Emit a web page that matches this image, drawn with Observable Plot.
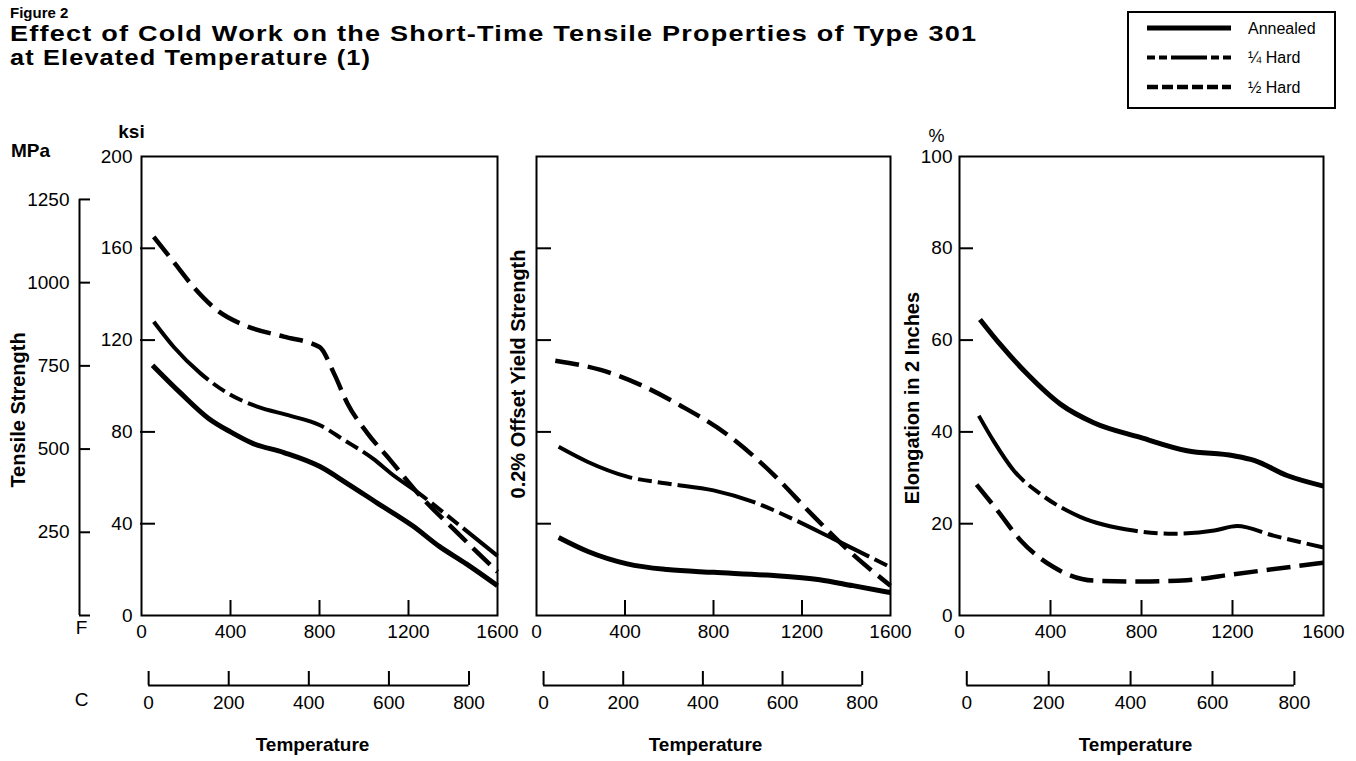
<!DOCTYPE html>
<html>
<head>
<meta charset="utf-8">
<script src="https://cdn.jsdelivr.net/npm/d3@7"></script>
<script src="https://cdn.jsdelivr.net/npm/@observablehq/plot@0.6"></script>
<style>
  body { margin: 0; background: #fff; font-family: "Liberation Sans", Arial, sans-serif; color: #000; }
  #wrap { position: relative; width: 1356px; height: 761px; overflow: hidden; background: #fff; }
  .fig { position: absolute; left: 10px; top: 4px; font-weight: bold; font-size: 15px; line-height: 17px; }
  .tl { position: absolute; left: 10px; font-weight: bold; font-size: 22px; line-height: 24px; white-space: nowrap; transform-origin: 0 50%; letter-spacing: 1px; }
</style>
</head>
<body>
<div id="wrap">
  <div class="fig">Figure 2</div>
  <div class="tl" style="top:22px;transform:scaleX(1.23);">Effect of Cold Work on the Short-Time Tensile Properties of Type 301</div>
  <div class="tl" style="top:46px;transform:scaleX(1.15);">at Elevated Temperature (1)</div>
</div>
<script>
// ---------- tick / category data ----------
const fTicks = [0, 400, 800, 1200, 1600];
const fInnerTicks = [400, 800, 1200];
const cTicks = [0, 200, 400, 600, 800];
const ksiTicks = [0, 40, 80, 120, 160, 200];
const ksiInnerTicks = [40, 80, 120, 160];
const mpaTicks = [0, 250, 500, 750, 1000, 1250];
const mpaLabels = [250, 500, 750, 1000, 1250];
const pctTicks = [0, 20, 40, 60, 80, 100];
const pctInnerTicks = [20, 40, 60, 80];
const seriesNames = ["Annealed", "¼ Hard", "½ Hard"];

// ---------- Panel 1: Tensile Strength (ksi) ----------
const tsAnnealedF = [50, 175, 300, 400, 500, 640, 800, 925, 1060, 1220, 1340, 1460, 1600];
const tsAnnealed  = [109, 97, 86, 80, 75, 71, 65, 57.5, 49, 39, 30, 22.5, 13];
const tsQuarterF  = [55, 145, 265, 385, 520, 670, 800, 910, 1045, 1120, 1250, 1420, 1600];
const tsQuarter   = [128, 117, 105.5, 97, 91, 87, 83, 76.5, 68, 62, 53, 40, 26];
const tsHalfF     = [55, 145, 235, 340, 475, 640, 800, 865, 925, 1015, 1120, 1240, 1420, 1600];
const tsHalf      = [165, 154, 143, 133, 126, 121.5, 117, 105.5, 92.5, 79.5, 67.5, 53.5, 36, 19];

// ---------- Panel 2: 0.2% Offset Yield Strength (ksi) ----------
const ysAnnealedF = [100, 230, 410, 590, 800, 1040, 1280, 1430, 1600];
const ysAnnealed  = [34, 28, 22.5, 20, 18.8, 17.6, 15.6, 13, 10];
const ysQuarterF  = [100, 230, 410, 590, 800, 980, 1160, 1340, 1600];
const ysQuarter   = [73.5, 67, 60.5, 57.5, 54.5, 49.5, 42, 33.5, 21];
const ysHalfF     = [85, 290, 470, 650, 860, 1070, 1250, 1420, 1600];
const ysHalf      = [111, 107, 100.5, 91.5, 79, 61.5, 43.5, 27.5, 13];

// ---------- Panel 3: Elongation in 2 Inches (%) ----------
const elAnnealedF = [90, 180, 300, 445, 590, 795, 1000, 1205, 1295, 1440, 1600];
const elAnnealed  = [64.5, 59, 52.5, 46, 42, 38.8, 35.9, 34.8, 33.8, 30.5, 28.2];
const elQuarterF  = [85, 150, 240, 355, 530, 765, 940, 1120, 1220, 1380, 1600];
const elQuarter   = [43.5, 38, 31.5, 26.5, 21.5, 18.5, 17.8, 18.5, 19.5, 17.4, 14.8];
const elHalfF     = [75, 165, 270, 415, 590, 795, 1000, 1205, 1600];
const elHalf      = [28.5, 23, 16.3, 10.5, 7.6, 7.4, 7.7, 9, 11.5];

// ---------- helpers ----------
const KSI_TO_MPA = 6.895;
const cToF = c => c * 9 / 5 + 32;
const fToC = f => (f - 32) * 5 / 9;
const rows = (F, V) => F.map((f, i) => ({F: f, v: V[i]}));
const plain = d => String(Math.round(d));

const lineStyle = {
  "Annealed": {strokeWidth: 5},
  "¼ Hard": {strokeWidth: 4, strokeDasharray: "80,6,14,6,14,6"},
  "½ Hard": {strokeWidth: 4.5, strokeDasharray: "24,9"}
};
const legendDash = {
  "Annealed": null,
  "¼ Hard": "8,4,8,4,36,4,8,4,8,4",
  "½ Hard": "11,4"
};

function seriesLines(list) {
  return list.map(([name, F, V]) => Plot.line(rows(F, V), {
    x: "F", y: "v", curve: "monotone-x", stroke: "black",
    strokeLinecap: "butt", strokeLinejoin: "round", ...lineStyle[name]
  }));
}

const FONT = "'Liberation Sans', Arial, sans-serif";
const TOP = 110, H = 651;

function commonX() {
  return [
    Plot.frame({stroke: "black", strokeWidth: 2}),
    Plot.axisX(fTicks, {tickSize: 0, tickPadding: 9, tickFormat: plain, label: null}),
    Plot.axisX(fInnerTicks, {tickSize: 15, dy: -15, fill: "none", strokeWidth: 2, label: null}),
    Plot.ruleY([0], {x1: cToF(cTicks[0]), x2: cToF(cTicks[cTicks.length - 1]), dy: 70, strokeWidth: 2}),
    Plot.axisX(cTicks.map(cToF), {tickSize: 14, dy: 56, tickPadding: 10, strokeWidth: 2,
      tickFormat: d => plain(fToC(d)), label: null})
  ];
}

function place(svg, left) {
  svg.style.position = "absolute";
  svg.style.left = left + "px";
  svg.style.top = TOP + "px";
  document.getElementById("wrap").appendChild(svg);
}

const baseStyle = {fontFamily: FONT, fontSize: "19px", background: "transparent", overflow: "visible", color: "black"};
const lab = {textAnchor: "middle", fontWeight: "bold", fontSize: 20};

// ---------- Panel 1 ----------
place(Plot.plot({
  width: 505, height: H, marginLeft: 141, marginRight: 8, marginTop: 46, marginBottom: 146,
  x: {domain: [0, 1600], label: null}, y: {domain: [0, 200], label: null},
  style: baseStyle,
  marks: [
    ...commonX(),
    Plot.axisY(ksiTicks, {tickSize: 0, tickPadding: 9, tickFormat: plain, label: null}),
    Plot.axisY(ksiInnerTicks, {tickSize: 15, dx: 14, fill: "none", strokeWidth: 2, label: null}),
    Plot.ruleX([0], {y1: 0, y2: mpaTicks[mpaTicks.length - 1] / KSI_TO_MPA, dx: -62, strokeWidth: 2}),
    Plot.axisY(mpaTicks.map(m => m / KSI_TO_MPA), {tickSize: 11, dx: -51, fill: "none", strokeWidth: 2, label: null}),
    Plot.axisY(mpaLabels.map(m => m / KSI_TO_MPA), {tickSize: 0, tickPadding: 10, dx: -62,
      tickFormat: d => plain(d * KSI_TO_MPA), label: null}),
    Plot.text(["MPa"], {frameAnchor: "top-left", dx: -111, dy: -13, ...lab, fontSize: 19}),
    Plot.text(["ksi"], {frameAnchor: "top-left", dx: -10, dy: -32, ...lab, fontSize: 19}),
    Plot.text(["F"], {frameAnchor: "bottom-left", dx: -60, dy: 18, textAnchor: "middle"}),
    Plot.text(["C"], {frameAnchor: "bottom-left", dx: -60, dy: 90, textAnchor: "middle"}),
    Plot.text(["Temperature"], {frameAnchor: "bottom", dx: -7, dy: 135, fontWeight: "bold"}),
    Plot.text(["Tensile Strength"], {frameAnchor: "left", dx: -123, dy: 24, rotate: -90, ...lab}),
    ...seriesLines([
      [seriesNames[0], tsAnnealedF, tsAnnealed],
      [seriesNames[1], tsQuarterF, tsQuarter],
      [seriesNames[2], tsHalfF, tsHalf]
    ])
  ]
}), 0);

// ---------- Panel 2 ----------
place(Plot.plot({
  width: 395, height: H, marginLeft: 31, marginRight: 10, marginTop: 46, marginBottom: 146,
  x: {domain: [0, 1600], label: null}, y: {domain: [0, 200], label: null},
  style: baseStyle,
  marks: [
    ...commonX(),
    Plot.axisY(ksiInnerTicks, {tickSize: 15, dx: 15, fill: "none", strokeWidth: 2, label: null}),
    Plot.text(["Temperature"], {frameAnchor: "bottom", dx: -8, dy: 135, fontWeight: "bold"}),
    Plot.text(["0.2% Offset Yield Strength"], {frameAnchor: "left", dx: -18, dy: -12, rotate: -90, ...lab}),
    ...seriesLines([
      [seriesNames[0], ysAnnealedF, ysAnnealed],
      [seriesNames[1], ysQuarterF, ysQuarter],
      [seriesNames[2], ysHalfF, ysHalf]
    ])
  ]
}), 505);

// ---------- Panel 3 ----------
place(Plot.plot({
  width: 456, height: H, marginLeft: 59, marginRight: 33, marginTop: 46, marginBottom: 146,
  x: {domain: [0, 1600], label: null}, y: {domain: [0, 100], label: null},
  style: baseStyle,
  marks: [
    ...commonX(),
    Plot.axisY(pctTicks, {tickSize: 0, tickPadding: 7, tickFormat: plain, label: null}),
    Plot.axisY(pctInnerTicks, {tickSize: 14, dx: 14, fill: "none", strokeWidth: 2, label: null}),
    Plot.text(["%"], {frameAnchor: "top-left", dx: -23, dy: -27, textAnchor: "middle", fontSize: 18}),
    Plot.text(["Temperature"], {frameAnchor: "bottom", dx: -6, dy: 135, fontWeight: "bold"}),
    Plot.text(["Elongation in 2 Inches"], {frameAnchor: "left", dx: -47, dy: 12, rotate: -90, ...lab}),
    ...seriesLines([
      [seriesNames[0], elAnnealedF, elAnnealed],
      [seriesNames[1], elQuarterF, elQuarter],
      [seriesNames[2], elHalfF, elHalf]
    ])
  ]
}), 900);

// ---------- Legend ----------
const lg = d3.select("#wrap").append("svg")
  .style("position", "absolute").style("left", "1127px").style("top", "11px")
  .attr("width", 210).attr("height", 99);
lg.append("rect").attr("x", 1).attr("y", 1).attr("width", 207).attr("height", 96)
  .attr("fill", "white").attr("stroke", "black").attr("stroke-width", 2);
seriesNames.forEach((name, i) => {
  const y = 17 + i * 29.5;
  const st = lineStyle[name];
  const ln = lg.append("line").attr("x1", 20).attr("x2", 104).attr("y1", y).attr("y2", y)
    .attr("stroke", "black").attr("stroke-width", st.strokeWidth);
  if (legendDash[name]) ln.attr("stroke-dasharray", legendDash[name]);
  lg.append("text").attr("x", 121).attr("y", y).attr("dy", "0.35em")
    .attr("font-family", FONT).attr("font-size", 16).text(name);
});
</script>
</body>
</html>
